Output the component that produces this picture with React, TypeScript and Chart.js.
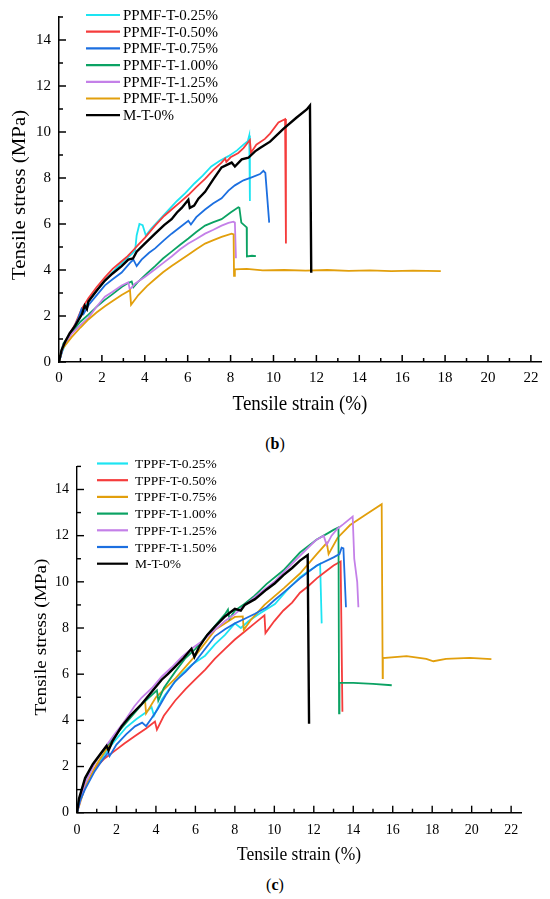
import React, { useEffect, useRef } from 'react';
import { Chart, registerables } from 'chart.js';

Chart.register(...registerables);

type Pt = [number, number];

// axis ticks (same for both panels)
const strainTicks = [0, 2, 4, 6, 8, 10, 12, 14, 16, 18, 20, 22];
const strainMinor = [1, 3, 5, 7, 9, 11, 13, 15, 17, 19, 21];
const stressTicks = [0, 2, 4, 6, 8, 10, 12, 14];
const stressMinor = [1, 3, 5, 7, 9, 11, 13, 15];

// ---- panel (b): PPMF fibres, [strain %, stress MPa]
const ppmfLabels = ['PPMF-T-0.25%', 'PPMF-T-0.50%', 'PPMF-T-0.75%', 'PPMF-T-1.00%', 'PPMF-T-1.25%', 'PPMF-T-1.50%', 'M-T-0%'];

const ppmf025: Pt[] = [[0, 0], [0.15, 0.45], [0.35, 0.9], [0.6, 1.35], [0.9, 1.85], [1.2, 2.35], [1.5, 2.8], [1.9, 3.25], [2.3, 3.7], [2.7, 4.1], [3.1, 4.45], [3.4, 4.7], [3.55, 4.85], [3.62, 5.5], [3.75, 6.0], [3.9, 5.95], [4.05, 5.5], [4.3, 5.8], [4.7, 6.2], [5.1, 6.6], [5.5, 7.0], [5.9, 7.35], [6.3, 7.75], [6.7, 8.1], [7.1, 8.5], [7.5, 8.75], [7.9, 8.95], [8.3, 9.2], [8.6, 9.45], [8.8, 9.6], [8.87, 9.85], [8.9, 7.0]];
const ppmf050: Pt[] = [[0, 0], [0.15, 0.5], [0.3, 0.88], [0.75, 1.64], [1.05, 2.3], [1.37, 2.77], [1.75, 3.25], [2.14, 3.68], [2.5, 4.05], [2.92, 4.38], [3.2, 4.6], [3.47, 4.87], [3.7, 5.1], [4.0, 5.4], [4.48, 5.93], [4.9, 6.35], [5.25, 6.63], [5.65, 6.95], [6.03, 7.26], [6.4, 7.6], [6.81, 7.96], [7.2, 8.35], [7.58, 8.67], [7.75, 8.85], [7.8, 8.7], [8.0, 8.9], [8.36, 9.09], [8.6, 9.3], [8.9, 9.65], [8.95, 9.1], [9.2, 9.45], [9.6, 9.7], [9.84, 9.93], [10.23, 10.42], [10.54, 10.56], [10.58, 5.15]];
const ppmf075: Pt[] = [[0, 0], [0.2, 0.66], [0.59, 1.3], [0.9, 1.9], [1.05, 2.3], [1.15, 2.1], [1.4, 2.5], [1.8, 2.95], [2.14, 3.33], [2.5, 3.6], [2.92, 3.89], [3.31, 4.31], [3.47, 4.45], [3.62, 4.17], [3.85, 4.45], [4.2, 4.75], [4.48, 4.94], [4.9, 5.3], [5.25, 5.58], [5.7, 5.9], [6.03, 6.14], [6.15, 5.98], [6.4, 6.3], [6.81, 6.63], [7.2, 6.9], [7.58, 7.12], [7.9, 7.45], [8.2, 7.68], [8.6, 7.9], [8.98, 8.03], [9.37, 8.17], [9.53, 8.31], [9.62, 8.22], [9.8, 6.06]];
const ppmf100: Pt[] = [[0, 0], [0.2, 0.8], [0.59, 1.3], [1.0, 1.75], [1.37, 2.06], [1.75, 2.4], [2.14, 2.7], [2.5, 2.95], [2.92, 3.26], [3.2, 3.42], [3.39, 3.5], [3.47, 3.25], [3.7, 3.5], [4.1, 3.85], [4.48, 4.17], [4.85, 4.5], [5.25, 4.8], [5.65, 5.1], [6.03, 5.37], [6.4, 5.65], [6.81, 5.93], [7.2, 6.08], [7.58, 6.21], [8.0, 6.5], [8.36, 6.73], [8.41, 6.7], [8.5, 6.06], [8.75, 5.85], [8.76, 4.59], [9.0, 4.62], [9.18, 4.6]];
const ppmf125: Pt[] = [[0, 0], [0.2, 0.73], [0.59, 1.22], [1.0, 1.6], [1.37, 1.92], [1.75, 2.4], [2.14, 2.84], [2.5, 3.05], [2.92, 3.33], [3.23, 3.47], [3.3, 3.15], [3.54, 3.4], [4.0, 3.7], [4.48, 4.03], [4.85, 4.3], [5.25, 4.59], [5.65, 4.9], [6.03, 5.15], [6.4, 5.35], [6.81, 5.58], [7.2, 5.75], [7.58, 5.93], [7.9, 6.05], [8.13, 6.1], [8.2, 6.06], [8.25, 4.51]];
const ppmf150: Pt[] = [[0, 0], [0.12, 0.52], [0.59, 1.08], [1.0, 1.5], [1.37, 1.85], [1.75, 2.15], [2.14, 2.42], [2.5, 2.65], [2.92, 2.91], [3.31, 3.12], [3.36, 2.49], [3.7, 2.91], [4.1, 3.3], [4.48, 3.61], [4.85, 3.9], [5.25, 4.17], [5.65, 4.42], [6.03, 4.66], [6.4, 4.9], [6.81, 5.15], [7.2, 5.3], [7.58, 5.44], [8.05, 5.58], [8.14, 5.55], [8.16, 3.75], [8.2, 4.03], [8.75, 4.05], [9.5, 3.98], [10.5, 4.0], [11.5, 3.97], [12.5, 4.0], [13.5, 3.96], [14.5, 3.98], [15.5, 3.95], [16.5, 3.97], [17.8, 3.95]];
const mtTop: Pt[] = [[0, 0], [0.12, 0.52], [0.28, 0.87], [0.5, 1.25], [0.75, 1.57], [1.06, 2.06], [1.2, 2.45], [1.3, 2.3], [1.37, 2.63], [1.75, 3.1], [2.14, 3.54], [2.5, 3.85], [2.92, 4.17], [3.23, 4.45], [3.45, 4.5], [3.62, 4.8], [4.0, 5.15], [4.48, 5.58], [4.9, 5.95], [5.25, 6.21], [5.5, 6.5], [5.72, 6.7], [6.03, 7.05], [6.1, 6.7], [6.3, 6.8], [6.5, 7.1], [6.81, 7.4], [7.2, 7.95], [7.58, 8.46], [8.05, 8.67], [8.2, 8.5], [8.52, 8.81], [8.83, 8.88], [9.14, 9.16], [9.37, 9.3], [9.84, 9.58], [10.46, 10.14], [11.08, 10.63], [11.55, 10.98], [11.7, 11.15], [11.76, 3.88]];

// ---- panel (c): TPPF fibres
const tppfLabels = ['TPPF-T-0.25%', 'TPPF-T-0.50%', 'TPPF-T-0.75%', 'TPPF-T-1.00%', 'TPPF-T-1.25%', 'TPPF-T-1.50%', 'M-T-0%'];

const tppf025: Pt[] = [[0, 0], [0.15, 0.55], [0.4, 1.1], [0.9, 1.9], [1.4, 2.55], [1.9, 3.1], [2.5, 3.7], [3.0, 4.05], [3.5, 4.35], [3.78, 4.57], [3.9, 4.2], [4.3, 4.9], [4.8, 5.5], [5.3, 6.0], [5.8, 6.4], [6.49, 6.8], [7.0, 7.3], [7.5, 7.7], [8.0, 8.2], [8.3, 8.0], [8.7, 8.3], [9.2, 8.6], [10.03, 9.04], [10.6, 9.6], [11.3, 10.2], [11.8, 10.5], [12.32, 10.78], [12.4, 8.2]];
const tppf050: Pt[] = [[0, 0], [0.15, 0.5], [0.41, 1.09], [0.91, 1.92], [1.4, 2.35], [1.93, 2.69], [2.4, 3.0], [2.94, 3.32], [3.5, 3.65], [3.95, 3.95], [4.05, 3.6], [4.4, 4.2], [4.97, 4.85], [5.5, 5.35], [5.98, 5.76], [6.5, 6.2], [6.99, 6.67], [7.5, 7.1], [8.0, 7.5], [8.5, 7.85], [9.0, 8.2], [9.5, 8.55], [9.55, 7.78], [10.0, 8.3], [10.46, 8.76], [10.9, 9.1], [11.3, 9.53], [11.7, 9.8], [12.15, 10.15], [12.6, 10.45], [13.0, 10.71], [13.36, 10.88], [13.45, 4.37]];
const tppf075: Pt[] = [[0, 0], [0.4, 1.09], [1.0, 2.1], [1.6, 2.9], [2.4, 3.95], [3.45, 4.85], [3.5, 4.3], [4.0, 5.0], [5.0, 5.83], [6.0, 6.8], [7.0, 7.92], [8.0, 8.48], [8.4, 8.5], [8.45, 7.92], [8.8, 8.34], [9.5, 9.0], [10.5, 9.74], [11.3, 10.36], [12.15, 11.2], [12.66, 11.69], [12.75, 11.2], [13.2, 11.9], [13.84, 12.46], [14.68, 12.94], [15.44, 13.36], [15.49, 5.83], [15.5, 6.7], [16.7, 6.78], [17.7, 6.66], [18.06, 6.56], [18.7, 6.66], [19.9, 6.71], [21.0, 6.65]];
const tppf100: Pt[] = [[0, 0], [0.1, 0.55], [0.41, 1.45], [0.8, 2.05], [1.25, 2.6], [1.8, 3.2], [2.3, 3.7], [2.8, 4.2], [3.3, 4.7], [3.8, 5.1], [4.05, 5.3], [4.12, 4.85], [4.4, 5.4], [4.97, 6.1], [5.5, 6.7], [6.0, 7.1], [6.5, 7.6], [7.0, 8.1], [7.5, 8.6], [7.65, 8.8], [7.72, 8.4], [8.0, 8.75], [8.5, 9.05], [9.0, 9.4], [9.6, 9.9], [10.46, 10.5], [11.3, 11.27], [12.15, 11.83], [12.7, 12.1], [13.0, 12.25], [13.25, 12.36], [13.28, 4.3], [13.3, 5.62], [14.0, 5.62], [15.0, 5.58], [15.95, 5.52]];
const tppf125: Pt[] = [[0, 0], [0.1, 0.3], [0.4, 1.25], [0.9, 2.15], [1.4, 2.8], [1.9, 3.4], [2.4, 3.95], [2.9, 4.6], [3.28, 4.99], [3.8, 5.4], [4.3, 5.9], [4.8, 6.3], [5.3, 6.74], [5.8, 7.1], [6.3, 7.4], [6.99, 7.92], [7.5, 8.3], [8.0, 8.6], [8.6, 9.05], [9.19, 9.46], [10.0, 10.0], [10.8, 10.7], [11.5, 11.3], [12.1, 11.8], [12.5, 12.0], [12.65, 11.6], [12.9, 12.0], [13.2, 12.3], [13.5, 12.5], [13.97, 12.83], [14.05, 11.0], [14.2, 10.0], [14.26, 8.9]];
const tppf150: Pt[] = [[0, 0], [0.15, 0.5], [0.4, 1.0], [0.9, 1.8], [1.3, 2.3], [1.59, 2.62], [1.65, 2.45], [2.0, 2.95], [2.5, 3.4], [2.94, 3.74], [3.3, 3.9], [3.5, 3.75], [3.78, 4.09], [4.1, 4.5], [4.5, 5.1], [4.97, 5.69], [5.5, 6.1], [5.98, 6.53], [6.5, 7.1], [6.99, 7.64], [7.5, 7.95], [8.0, 8.2], [8.5, 8.4], [9.02, 8.62], [9.61, 8.9], [10.0, 9.2], [10.46, 9.53], [11.3, 10.15], [12.15, 10.71], [13.0, 11.06], [13.3, 11.2], [13.41, 11.48], [13.5, 11.45], [13.63, 8.9]];
const mtBottom: Pt[] = [[0, 0], [0.1, 0.6], [0.41, 1.5], [0.8, 2.1], [1.25, 2.62], [1.5, 2.9], [1.6, 2.7], [1.8, 3.1], [2.26, 3.74], [2.7, 4.2], [3.28, 4.71], [3.8, 5.25], [4.29, 5.76], [4.6, 6.0], [4.97, 6.32], [5.4, 6.7], [5.8, 7.1], [5.95, 6.75], [6.2, 7.2], [6.6, 7.7], [6.99, 8.06], [7.5, 8.5], [8.0, 8.83], [8.3, 8.75], [8.5, 9.0], [9.02, 9.25], [9.61, 9.67], [10.03, 9.94], [10.46, 10.29], [10.9, 10.6], [11.3, 10.92], [11.69, 11.16], [11.76, 3.85]];

const CYAN = '#1de4f2';
const RED = '#f53c3c';
const BLUE = '#1c6fe0';
const GREEN = '#0ba263';
const PURPLE = '#c480e8';
const ORANGE = '#e29f0c';
const BLACK = '#000000';

const SERIF = '"Times New Roman", "Liberation Serif", serif';

type Series = { label: string; color: string; pts: Pt[] };

type PanelProps = {
  series: Series[];
  height: number;
  yWidth: number;
  padTop: number;
  padRight: number;
  xHeight: number;
  tickSize: number;
  tickPad: number;
  titleSize: number;
  legendSize: number;
  yTitleAt: [number, number];
  xTitleAt: [number, number];
  legendAt: [number, number, number, number]; // line start, line end, text x, first row y
  axisWidth: number;
};

// the source figure is stretched a little vertically
const STRETCH = 1.1;

const Panel = (p: PanelProps) => {
  const canvasRef = useRef<HTMLCanvasElement>(null);
  const chartRef = useRef<Chart>();

  useEffect(() => {
    if (!canvasRef.current) return;
    if (chartRef.current) chartRef.current.destroy();

    const decor = {
      id: 'decor',
      afterDraw(chart: any) {
        const { ctx, chartArea } = chart;
        const xs = chart.scales.x;
        const ys = chart.scales.y;
        ctx.save();
        ctx.strokeStyle = '#000';
        ctx.lineWidth = p.axisWidth;
        // inward tick marks
        const tickX = (vals: number[], len: number) => vals.forEach((v) => {
          const px = xs.getPixelForValue(v);
          ctx.beginPath();
          ctx.moveTo(px, chartArea.bottom);
          ctx.lineTo(px, chartArea.bottom - len);
          ctx.stroke();
        });
        const tickY = (vals: number[], len: number) => vals.forEach((v) => {
          const py = ys.getPixelForValue(v);
          ctx.beginPath();
          ctx.moveTo(chartArea.left, py);
          ctx.lineTo(chartArea.left + len, py);
          ctx.stroke();
        });
        tickX(strainTicks, 7);
        tickX(strainMinor, 4);
        tickY(stressTicks, 7);
        tickY(stressMinor, 4);

        // legend
        const [l0, l1, tx, ry] = p.legendAt;
        ctx.font = `${p.legendSize}px ${SERIF}`;
        ctx.textBaseline = 'middle';
        ctx.textAlign = 'left';
        chart.data.datasets.forEach((ds: any, i: number) => {
          const y = ry + i * 16.7;
          ctx.strokeStyle = ds.borderColor;
          ctx.lineWidth = 2.2;
          ctx.beginPath();
          ctx.moveTo(l0, y);
          ctx.lineTo(l1, y);
          ctx.stroke();
          ctx.fillStyle = '#000';
          ctx.fillText(ds.label, tx, y + 1);
        });

        // axis titles
        ctx.fillStyle = '#000';
        ctx.font = `${p.titleSize}px ${SERIF}`;
        ctx.textAlign = 'center';
        ctx.textBaseline = 'middle';
        ctx.save();
        ctx.translate(p.xTitleAt[0], p.xTitleAt[1]);
        ctx.scale(1, STRETCH);
        ctx.fillText('Tensile strain (%)', 0, 0);
        ctx.restore();
        ctx.translate(p.yTitleAt[0], p.yTitleAt[1]);
        ctx.rotate(-Math.PI / 2);
        ctx.scale(STRETCH, 1);
        ctx.fillText('Tensile stress (MPa)', 0, 0);
        ctx.restore();
      },
    };

    const n = p.series.length;
    chartRef.current = new Chart(canvasRef.current, {
      type: 'line',
      data: {
        datasets: p.series.map((s, i) => ({
          label: s.label,
          data: s.pts.map(([x, y]) => ({ x, y })),
          borderColor: s.color,
          backgroundColor: s.color,
          borderWidth: s.color === BLACK ? 2.4 : 1.8,
          pointRadius: 0,
          tension: 0,
          fill: false,
          order: n - i,
        })),
      },
      options: {
        animation: false,
        responsive: false,
        events: [],
        layout: { padding: { top: p.padTop, right: p.padRight, left: 0, bottom: 0 } },
        plugins: { legend: { display: false }, tooltip: { enabled: false } },
        scales: {
          x: {
            type: 'linear',
            min: 0,
            max: 22.5,
            afterBuildTicks: (s: any) => { s.ticks = strainTicks.map((v) => ({ value: v })); },
            afterFit: (s: any) => { s.height = p.xHeight; },
            grid: { display: false, drawTicks: false },
            border: { display: true, color: '#000', width: p.axisWidth },
            ticks: { autoSkip: false, maxRotation: 0, padding: p.tickPad, color: '#000', font: { family: SERIF, size: p.tickSize } },
          },
          y: {
            type: 'linear',
            min: 0,
            max: 15,
            afterBuildTicks: (s: any) => { s.ticks = stressTicks.map((v) => ({ value: v })); },
            afterFit: (s: any) => { s.width = p.yWidth; },
            grid: { display: false, drawTicks: false },
            border: { display: true, color: '#000', width: p.axisWidth },
            ticks: { autoSkip: false, padding: 8, color: '#000', font: { family: SERIF, size: p.tickSize } },
          },
        },
      },
      plugins: [decor],
    } as any);

    return () => {
      if (chartRef.current) {
        chartRef.current.destroy();
        chartRef.current = undefined;
      }
    };
  }, []);

  return <canvas ref={canvasRef} width={550} height={p.height} style={{ display: 'block' }} />;
};

const caption = (letter: string, top: number) => (
  <div style={{ position: 'absolute', left: 0, top, width: 550, textAlign: 'center', fontFamily: SERIF, fontSize: 16, lineHeight: '20px', color: '#000' }}>
    (<b>{letter}</b>)
  </div>
);

const App = () => {
  const topSeries: Series[] = [
    { label: ppmfLabels[0], color: CYAN, pts: ppmf025 },
    { label: ppmfLabels[1], color: RED, pts: ppmf050 },
    { label: ppmfLabels[2], color: BLUE, pts: ppmf075 },
    { label: ppmfLabels[3], color: GREEN, pts: ppmf100 },
    { label: ppmfLabels[4], color: PURPLE, pts: ppmf125 },
    { label: ppmfLabels[5], color: ORANGE, pts: ppmf150 },
    { label: ppmfLabels[6], color: BLACK, pts: mtTop },
  ];
  const bottomSeries: Series[] = [
    { label: tppfLabels[0], color: CYAN, pts: tppf025 },
    { label: tppfLabels[1], color: RED, pts: tppf050 },
    { label: tppfLabels[2], color: ORANGE, pts: tppf075 },
    { label: tppfLabels[3], color: GREEN, pts: tppf100 },
    { label: tppfLabels[4], color: PURPLE, pts: tppf125 },
    { label: tppfLabels[5], color: BLUE, pts: tppf150 },
    { label: tppfLabels[6], color: BLACK, pts: mtBottom },
  ];

  return (
    <div style={{ position: 'absolute', left: 0, top: 0, width: 550, height: 899, background: '#fff' }}>
      <div style={{ position: 'absolute', left: 0, top: 0 }}>
        <Panel
          series={topSeries}
          height={430}
          yWidth={59}
          padTop={6.5}
          padRight={8.4}
          xHeight={68}
          tickSize={15}
          tickPad={7}
          titleSize={19}
          legendSize={15}
          yTitleAt={[20, 195]}
          xTitleAt={[300, 405]}
          legendAt={[86, 120, 123, 15]}
          axisWidth={1.5}
        />
      </div>
      {caption('b', 434)}
      <div style={{ position: 'absolute', left: 0, top: 450 }}>
        <Panel
          series={bottomSeries}
          height={420}
          yWidth={77}
          padTop={4.2}
          padRight={29}
          xHeight={57.3}
          tickSize={14}
          tickPad={9}
          titleSize={17.5}
          legendSize={13.5}
          yTitleAt={[41, 187]}
          xTitleAt={[299, 405]}
          legendAt={[97, 128, 135, 13.5]}
          axisWidth={1.4}
        />
      </div>
      {caption('c', 875)}
    </div>
  );
};

export default App;
